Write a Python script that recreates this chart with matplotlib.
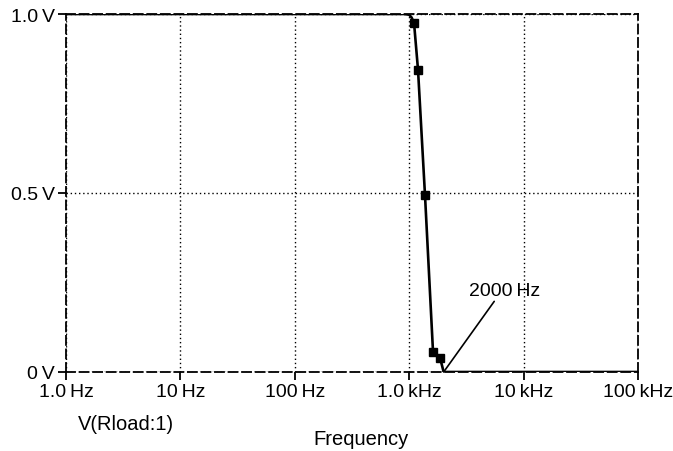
import matplotlib.pyplot as plt
import matplotlib.ticker as ticker

plt.rcParams['font.family'] = ['Liberation Sans', 'DejaVu Sans']

# frequency response of the filter
freq = [1, 10, 100, 900, 1000, 1050, 1102, 1194, 1374, 1615, 1859, 2000, 10000, 100000]
volts = [1.0, 1.0, 1.0, 1.0, 0.998, 0.99, 0.975, 0.844, 0.494, 0.056, 0.04, 0.0, 0.0, 0.0]

# points where the simulator put square markers
mark_freq = [1102, 1194, 1374, 1615, 1859]
mark_volts = [0.975, 0.844, 0.494, 0.056, 0.04]

x_ticks = [1, 10, 100, 1000, 10000, 100000]
x_labels = ['1.0\u2009Hz', '10\u2009Hz', '100\u2009Hz', '1.0\u2009kHz', '10\u2009kHz', '100\u2009kHz']
y_ticks = [0, 0.5, 1.0]
y_labels = ['0\u2009V', '0.5\u2009V', '1.0\u2009V']

note_freq = 2000
note_label = '2000\u2009Hz'

fig = plt.figure(figsize=(6.73, 4.52), dpi=100)
ax = fig.add_axes([0.0981, 0.1748, 0.8499, 0.792])

ax.plot(freq, volts, color='black', lw=1.9, zorder=3)
ax.plot(mark_freq, mark_volts, 's', color='black', ms=5.5, zorder=4)

ax.set_xscale('log')
ax.set_xlim(1, 100000)
ax.set_ylim(0, 1.0)

ax.set_xticks(x_ticks)
ax.set_xticklabels(x_labels)
ax.xaxis.set_minor_locator(ticker.NullLocator())
ax.set_yticks(y_ticks)
ax.set_yticklabels(y_labels)
ax.tick_params(direction='out', length=6, width=1.3, labelsize=14, pad=2, colors='black')

# dotted grid inside, dashed frame
ax.grid(True, linestyle=(0, (1, 2)), color='black', lw=1.0)
for s in ax.spines.values():
    s.set_linestyle((0, (5, 2.5)))
    s.set_linewidth(1.3)

ax.annotate(note_label, xy=(note_freq, 0), xytext=(3300, 0.205),
            fontsize=14, ha='left', va='bottom',
            arrowprops=dict(arrowstyle='-', color='black', lw=1.2,
                            shrinkA=0, shrinkB=0, relpos=(0.38, -0.05)),
            zorder=5)

fig.text(0.187, 0.06, 'V(Rload:1)', fontsize=14.5, ha='center', va='center')
fig.text(0.536, 0.027, 'Frequency', fontsize=14.5, ha='center', va='center')

fig.savefig('out.png', dpi=100, facecolor='white')
